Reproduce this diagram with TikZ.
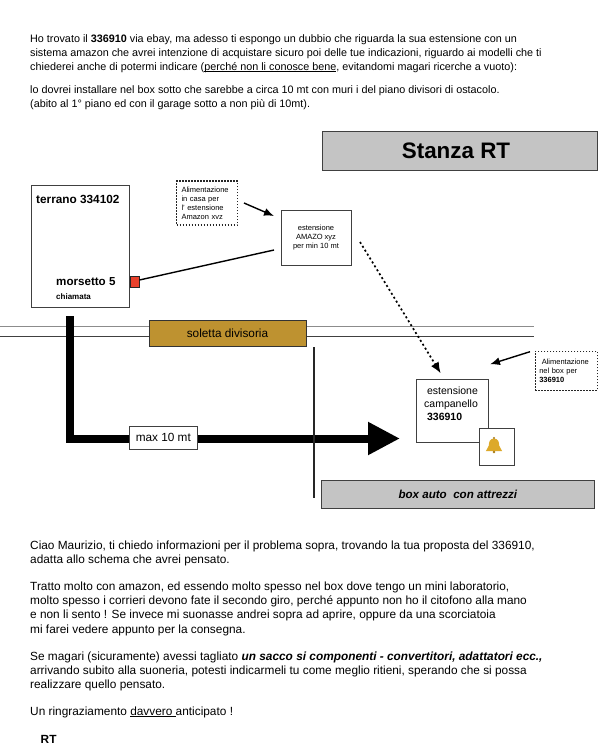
\documentclass[tikz,border=0pt]{standalone}
\usepackage{fontspec}
\setmainfont{Liberation Sans}
\usetikzlibrary{arrows.meta,positioning,calc}
\definecolor{soletta}{HTML}{BE9230}
\definecolor{campana}{HTML}{DDA92A}
\definecolor{campanascura}{HTML}{A87A14}
\definecolor{rosso}{HTML}{E8412C}
\newcommand{\sott}[1]{\setbox0\hbox{#1}\rlap{\rule[-1.6pt]{\wd0}{0.5pt}}#1}

\begin{document}
\begin{tikzpicture}[x=1pt,y=-1pt,
  para/.style={anchor=north west,align=left,inner sep=0pt,font=\fontsize{10.8}{13.8}\selectfont},
  parab/.style={anchor=north west,align=left,inner sep=0pt,font=\fontsize{11.85}{14.1}\selectfont},
  plainbox/.style={draw=black!75,line width=0.9pt,fill=white,inner sep=0pt},
  greybox/.style={draw=black!75,line width=1pt,fill=black!23,inner sep=0pt},
  notebox/.style={draw=black!85,dash pattern=on 1.5pt off 1.5pt,line width=1.1pt,inner sep=0pt},
  small/.style={font=\fontsize{7.5}{8.9}\selectfont,align=left},
  wire/.style={line width=1.4pt,-{Latex[length=10pt,width=8pt]}}]
\useasboundingbox (0,0) rectangle (607,750);

% testo sopra
\node[para] (intro) at (30,34.5) {Ho trovato il \textbf{336910} via ebay, ma adesso ti espongo un dubbio che riguarda la sua estensione con un\\
sistema amazon che avrei intenzione di acquistare sicuro poi delle tue indicazioni, riguardo ai modelli che ti\\
chiederei anche di potermi indicare (\sott{perché non li conosce bene}, evitandomi magari ricerche a vuoto):};
\node[para] (dubbio) at (30,85.5) {lo dovrei installare nel box sotto che sarebbe a circa 10 mt con muri i del piano divisori di ostacolo.\\
(abito al 1° piano ed con il garage sotto a non più di 10mt).};

% piano sopra
\node[greybox,minimum width=275pt,minimum height=39pt] (stanza) at (459.5,150.5) {};
\node[inner sep=0pt,font=\fontsize{22.4}{26}\selectfont\bfseries] (stanzalab) at (456,150.5) {Stanza RT};
\node[plainbox,minimum width=98pt,minimum height=122pt] (terrano) at (80,246) {};
\node[anchor=west,inner sep=0pt,font=\fontsize{11.8}{14}\selectfont\bfseries] (terranolab) at (36,199) {terrano 334102};
\node[anchor=west,inner sep=0pt,font=\fontsize{11.6}{14}\selectfont\bfseries] (morsetto) at (56,282) {morsetto 5};
\node[anchor=west,inner sep=0pt,font=\fontsize{8}{9}\selectfont\bfseries] (chiamata) at (56,297) {chiamata};
\node[draw=black!85,fill=rosso,line width=0.9pt,minimum width=9pt,minimum height=11pt,inner sep=0pt] (redsq) at (134.5,282) {};
\node[notebox,minimum width=61pt,minimum height=44pt,small,text width=56pt,xshift=0.5pt] (alimcasa) at (206.5,203) {\ Alimentazione\\\ in casa per\\\ l' estensione\\\ Amazon xvz};
\node[plainbox,minimum width=70pt,minimum height=55pt] (amazo) at (316,237.5) {};
\node[inner sep=0pt,font=\fontsize{7.5}{9}\selectfont,align=center] (amazolab) at (316,238) {estensione\\AMAZO xyz\\per min 10 mt};

\coordinate (amazoin) at (274,250);
\coordinate (alimout) at (244,203);
\coordinate (alimin) at (274,216);
\draw[line width=1.4pt] (redsq.east) ++(0,-2) -- (amazoin);
\draw[wire] (alimout) -- (alimin);

% soletta
\coordinate (topL) at (0,326.8);
\coordinate (topR) at (534,326.8);
\coordinate (botL) at (0,336.5);
\coordinate (botR) at (534,336.5);
\draw[black!45,line width=0.9pt] (topL) -- (topR);
\draw[black!75,line width=0.9pt] (botL) -- (botR);
\node[draw=black!80,fill=soletta,line width=0.9pt,minimum width=157pt,minimum height=26pt,inner sep=0pt,font=\fontsize{11.8}{14}\selectfont] (solettabox) at (227.5,333) {soletta divisoria};

% cavo grosso
\coordinate (cavotop) at (70.3,316);
\coordinate (cavocorner) at (70.3,438.5);
\coordinate (cavotip) at (400,438.5);
\draw[line width=8pt,miter limit=10,-{Triangle[length=32pt,width=31pt]}] (cavotop) -- (cavocorner) -- (cavotip);
\node[plainbox,minimum width=68pt,minimum height=23pt,font=\fontsize{11.8}{14}\selectfont] (maxbox) at (163.3,437.5) {max 10 mt};

% muro
\coordinate (muroA) at (314,347);
\coordinate (muroB) at (314,498);
\draw[black!85,line width=1.1pt] (muroA) -- (muroB);

% box sotto
\node[plainbox,minimum width=72pt,minimum height=62.5pt] (campanello) at (452,410.8) {};
\node[anchor=north west,inner sep=0pt,align=left,font=\fontsize{10.5}{13}\selectfont] (campanellolab) at (424,387) {\ estensione\\campanello\\\ \textbf{336910}};
\node[plainbox,minimum width=34.5pt,minimum height=37pt] (bellbox) at (496.8,446.8) {};
\fill[campana] (494,438.6) .. controls (489.6,438.6) and (489,442) .. (488.8,445.5)
  .. controls (488.6,448) and (486,449.2) .. (485.8,451.2) -- (502.2,451.2)
  .. controls (502,449.2) and (499.4,448) .. (499.2,445.5)
  .. controls (499,442) and (498.4,438.6) .. (494,438.6) -- cycle;
\fill[campanascura] (494,437.9) circle (1.1pt) (494,452) circle (1.4pt);
\node[notebox,minimum width=62pt,minimum height=39pt,small,text width=58pt] (alimbox) at (566.3,370.8) {\hspace{2pt}\ Alimentazione\\\hspace{2pt}nel box per\\\hspace{2pt}\textbf{336910}};
\node[greybox,minimum width=273pt,minimum height=28pt,font=\fontsize{11.6}{14}\selectfont\bfseries\itshape] (boxauto) at (457.8,494) {box auto~ con attrezzi};

\coordinate (amazoout) at (360,242);
\coordinate (campin) at (440.7,373.3);
\coordinate (alimboxout) at (530,351.7);
\coordinate (alimboxin) at (490,364.3);
\draw[line width=1.7pt,dash pattern=on 2pt off 2.6pt,-{Latex[length=11pt,width=9pt]}] (amazoout) -- (campin);
\draw[wire] (alimboxout) -- (alimboxin);

% testo sotto
\node[parab] (ciao) at (30,540.5) {Ciao Maurizio, ti chiedo informazioni per il problema sopra, trovando la tua proposta del 336910,\\
adatta allo schema che avrei pensato.};
\node[parab] (tratto) at (30,582) {Tratto molto con amazon, ed essendo molto spesso nel box dove tengo un mini laboratorio,\\
molto spesso i corrieri devono fate il secondo giro, perché appunto non ho il citofono alla mano\\
e non li sento !  Se invece mi suonasse andrei sopra ad aprire, oppure da una scorciatoia\\
mi farei vedere appunto per la consegna.};
\node[parab] (magari) at (30,651.5) {Se magari (sicuramente) avessi tagliato \textbf{\textit{un sacco si componenti - convertitori, adattatori ecc.,}}\\
arrivando subito alla suoneria, potesti indicarmeli tu come meglio ritieni, sperando che si possa\\
realizzare quello pensato.};
\node[parab] (grazie) at (30,706.5) {Un ringraziamento \sott{davvero }anticipato !};
\node[parab,font=\fontsize{11.85}{14}\selectfont\bfseries] (firma) at (40.5,735.5) {RT};
\end{tikzpicture}
\end{document}
